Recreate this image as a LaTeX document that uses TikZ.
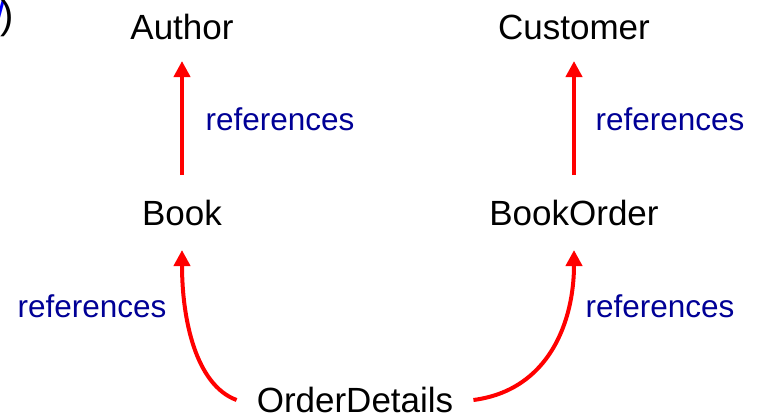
\documentclass[tikz,border=0pt]{standalone}
\usepackage{fontspec}
\setmainfont{Liberation Sans}
\usetikzlibrary{arrows.meta}
\definecolor{lblue}{RGB}{0,0,150}
\definecolor{arred}{RGB}{255,0,0}
\tikzset{
  ent/.style={font=\fontsize{35}{40}\selectfont, inner sep=0pt, text=black},
  lbl/.style={font=\fontsize{31.5}{36}\selectfont, inner sep=0pt, text=lblue},
  refarrow/.style={draw=arred, line width=4pt, -{Triangle[length=16pt,width=16pt]}}
}
\begin{document}
\begin{tikzpicture}[x=1pt,y=-1pt]
\useasboundingbox (0,0) rectangle (759,418);
\begin{scope}
\clip (0,0) rectangle (759,418);
\node[ent, anchor=base east, font=\fontsize{40}{44}\selectfont] (frag) at (14,28) {{\color{blue}/}\kern-5pt)};
\end{scope}
\node[ent] (author) at (182,27) {Author};
\node[ent] (customer) at (574,27) {Customer};
\node[ent] (book) at (182,213) {Book};
\node[ent] (bookorder) at (574,213) {BookOrder};
\node[ent] (orderdetails) at (355,400) {OrderDetails};
\coordinate (b1) at (182,175);
\coordinate (a1) at (182,61);
\coordinate (b2) at (574,175);
\coordinate (a2) at (574,61);
\coordinate (bk) at (182,250);
\coordinate (bo) at (574,250);
\draw[refarrow] (b1) -- (a1);
\draw[refarrow] (b2) -- (a2);
\draw[refarrow] ([xshift=-20pt]orderdetails.west) .. controls (196,385) and (182,320) .. (bk);
\draw[refarrow] ([xshift=20pt]orderdetails.east) .. controls (550,390) and (574,320) .. (bo);
\node[lbl] (l1) at (280,119) {references};
\node[lbl] (l2) at (670,119) {references};
\node[lbl] (l3) at (92,306) {references};
\node[lbl] (l4) at (660,306) {references};
\end{tikzpicture}
\end{document}
